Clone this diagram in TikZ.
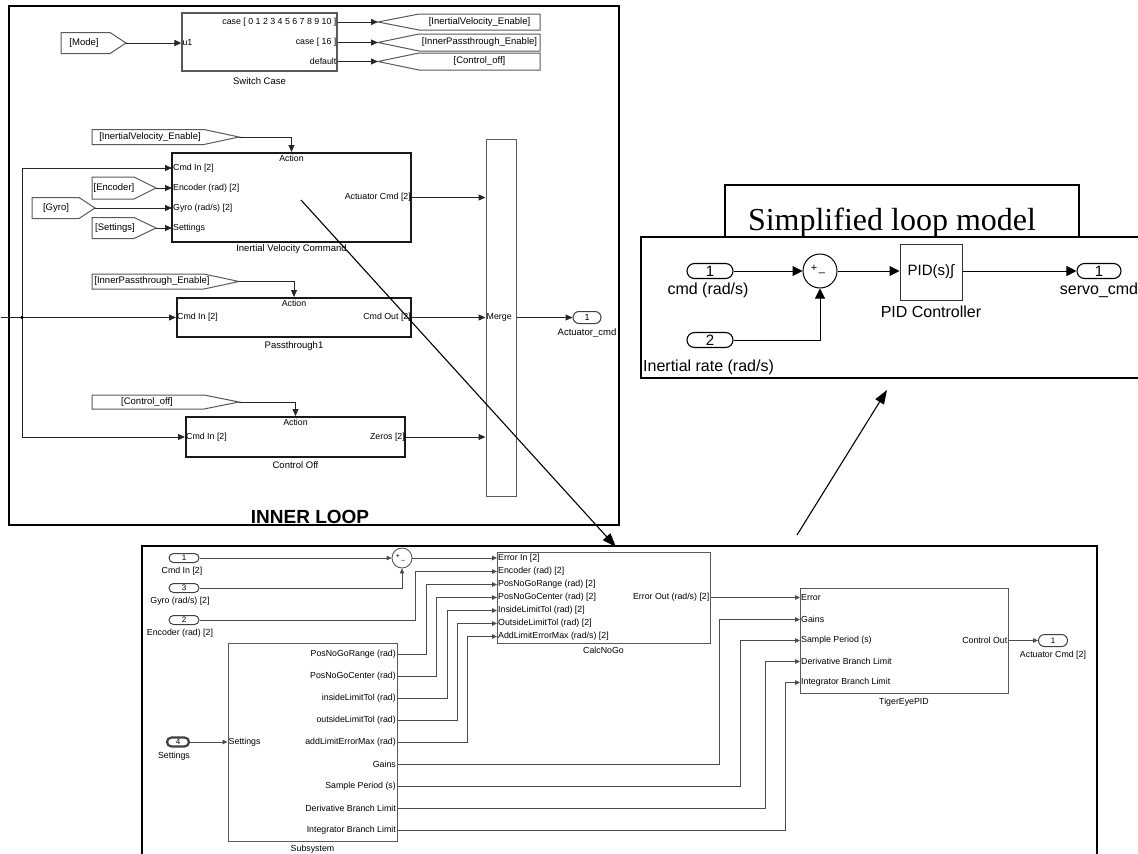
\documentclass[tikz,border=0pt]{standalone}
\usepackage{fontspec}
\setmainfont{Liberation Serif}
\setsansfont{Liberation Sans}
\usetikzlibrary{arrows.meta, calc, positioning}

\tikzset{
  frame/.style={draw=black, line width=2pt},
  blk/.style={draw=black!65, line width=1.2pt, inner sep=0pt},
  actblk/.style={draw=black!90, line width=2pt, inner sep=0pt},
  tagline/.style={draw=black!65, line width=1pt},
  sig/.style={draw=black!85, line width=1pt, -{Triangle[length=7pt,width=6pt]}},
  sigs/.style={draw=black!70, line width=0.8pt, -{Triangle[length=5pt,width=4.5pt]}},
  sigr/.style={draw=black, line width=1pt, -{Triangle[length=10pt,width=10pt]}},
  bigarrow/.style={draw=black, line width=1.1pt, -{Triangle[length=14pt,width=10pt]}},
  lbl/.style={font=\sffamily\fontsize{8.8}{10}\selectfont, inner sep=1pt},
  blkname/.style={font=\sffamily\fontsize{9.5}{11}\selectfont, inner sep=0pt},
  tagtxt/.style={font=\sffamily\fontsize{9.5}{11}\selectfont, inner sep=0pt},
  port/.style={draw=black!75, line width=1pt, rounded corners=4.5pt, inner sep=0pt,
    minimum width=30pt, minimum height=9pt, font=\sffamily\fontsize{8}{8}\selectfont},
  portr/.style={draw=black, line width=1.1pt, rounded corners=7.5pt, inner sep=0pt,
    minimum width=46pt, minimum height=15pt, font=\sffamily\fontsize{15}{15}\selectfont},
  big/.style={font=\sffamily\fontsize{16}{18}\selectfont, inner sep=0pt}
}

% from tag: name, x left, x knee, x tip, y, half height, text x, text
\newcommand{\fromtag}[8]{%
  \draw[tagline] (#2,{#5-#6}) -- (#3,{#5-#6}) -- (#4,#5) -- (#3,{#5+#6}) -- (#2,{#5+#6}) -- cycle;
  \coordinate (#1) at (#4,#5);
  \node[tagtxt] (#1-t) at (#7,#5) {#8};
}
% goto tag: name, x tip, x knee, x right, y, half height, text x, text
\newcommand{\gototag}[8]{%
  \draw[tagline] (#2,#5) -- (#3,{#5-#6}) -- (#4,{#5-#6}) -- (#4,{#5+#6}) -- (#3,{#5+#6}) -- cycle;
  \coordinate (#1) at (#2,#5);
  \node[tagtxt] (#1-t) at (#7,#5) {#8};
}

\begin{document}
\begin{tikzpicture}[x=1pt, y=-1pt]
  \useasboundingbox (0,0) rectangle (1138,854);

  % ===== inner loop =====
  \draw[frame] (9,6) rectangle (619,525);

  % switch case
  \fromtag{fMode}{61}{110}{126}{43}{10.5}{84}{[Mode]}
  \node[blk, minimum width=155pt, minimum height=58pt] (sw) at (259.5,42) {};
  \node[blkname] (sw-name) at (259.5,81) {Switch Case};
  \node[lbl, anchor=west] (sw-u1) at (sw.west |- fMode) {u1};
  \draw[sig] (fMode) -- (sw.west |- fMode);

  \gototag{gIVE}{378}{419}{540}{22}{8}{479.5}{[InertialVelocity\_Enable]}
  \gototag{gIPE}{378}{419}{540}{42.5}{8.5}{479.5}{[InnerPassthrough\_Enable]}
  \gototag{gCoff}{378}{419}{540}{61.5}{8.5}{479.5}{[Control\_off]}
  \node[lbl, anchor=east] (sw-o1) at (sw.east |- gIVE) {case [ 0 1 2 3 4 5 6 7 8 9 10 ]};
  \node[lbl, anchor=east] (sw-o2) at (sw.east |- gIPE) {case [ 16 ]};
  \node[lbl, anchor=east] (sw-o3) at (sw.east |- gCoff) {default};
  \foreach \g in {gIVE, gIPE, gCoff}
    \draw[sig] (sw.east |- \g) -- (\g);

  % inertial velocity command
  \fromtag{fIVE}{92}{204}{239}{137}{7.5}{150}{[InertialVelocity\_Enable]}
  \node[actblk, minimum width=239pt, minimum height=89pt] (ivc) at (291.5,197.5) {};
  \node[blkname] (ivc-name) at (291.5,249) {Inertial Velocity Command};
  \draw[sig] (fIVE) -| (ivc.north);
  \node[lbl, anchor=north, yshift=-2pt] (ivc-act) at (ivc.north) {Action};
  \coordinate (ivc-in1) at (172,168);
  \coordinate (ivc-in2) at (172,188);
  \coordinate (ivc-in3) at (172,208);
  \coordinate (ivc-in4) at (172,228);
  \node[lbl, anchor=west] (ivc-l1) at (ivc-in1) {Cmd In [2]};
  \node[lbl, anchor=west] (ivc-l2) at (ivc-in2) {Encoder (rad) [2]};
  \node[lbl, anchor=west] (ivc-l3) at (ivc-in3) {Gyro (rad/s) [2]};
  \node[lbl, anchor=west] (ivc-l4) at (ivc-in4) {Settings};
  \node[lbl, anchor=east] (ivc-lo) at (ivc.east) {Actuator Cmd [2]};
  \fromtag{fEnc}{92}{134}{156}{188}{11}{114}{[Encoder]}
  \fromtag{fGyro}{32}{79}{95}{208}{10.5}{56}{[Gyro]}
  \fromtag{fSet}{92}{134}{156}{228}{10.5}{115}{[Settings]}
  \draw[sig] (fEnc) -- (ivc-in2);
  \draw[sig] (fGyro) -- (ivc-in3);
  \draw[sig] (fSet) -- (ivc-in4);

  % passthrough
  \fromtag{fIPE}{92}{204}{239}{281.5}{7.5}{152}{[InnerPassthrough\_Enable]}
  \node[actblk, minimum width=234pt, minimum height=39pt] (pt) at (294,317.5) {};
  \node[blkname] (pt-name) at (294,346) {Passthrough1};
  \draw[sig] (fIPE) -| (pt.north);
  \node[lbl, anchor=north, yshift=-2pt] (pt-act) at (pt.north) {Action};
  \node[lbl, anchor=west] (pt-li) at (pt.west) {Cmd In [2]};
  \node[lbl, anchor=east] (pt-lo) at (pt.east) {Cmd Out [2]};

  % control off
  \fromtag{fCoff}{92}{204}{239}{402}{7}{147}{[Control\_off]}
  \node[actblk, minimum width=219pt, minimum height=40pt] (coff) at (295.5,437) {};
  \node[blkname] (coff-name) at (295.5,465) {Control Off};
  \draw[sig] (fCoff) -| (coff.north);
  \node[lbl, anchor=north, yshift=-2pt] (coff-act) at (coff.north) {Action};
  \node[lbl, anchor=west] (coff-li) at (coff.west) {Cmd In [2]};
  \node[lbl, anchor=east] (coff-lo) at (coff.east) {Zeros [2]};

  % cmd in feed
  \coordinate (cmdsrc) at (1,317.5);
  \coordinate (jn) at (22,317.5);
  \draw[sig] (cmdsrc) -- (pt.west);
  \draw[sig] (jn) |- (ivc-in1);
  \draw[sig] (jn) |- (coff.west);
  \fill[black] (jn) circle (1.8);

  % merge
  \node[blk, line width=1pt, minimum width=30pt, minimum height=357pt] (mrg) at (501,317.5) {};
  \node[lbl, anchor=west] (mrg-l) at (mrg.west) {Merge};
  \draw[sig] (ivc.east) -- (mrg.west |- ivc.east);
  \draw[sig] (pt.east) -- (mrg.west);
  \draw[sig] (coff.east) -- (mrg.west |- coff.east);
  \node[port, minimum width=28pt, minimum height=12pt, rounded corners=6pt,
    font=\sffamily\fontsize{9}{9}\selectfont] (out1) at (587,317.5) {1};
  \draw[sig] (mrg.east) -- (out1.west);
  \node[blkname] (out1-name) at (587,333) {Actuator\_cmd};

  \node[font=\sffamily\bfseries\fontsize{19}{20}\selectfont, anchor=base, inner sep=0pt] (inner) at (310,523) {INNER LOOP};

  % ===== simplified loop model =====
  \draw[line width=1.3pt] (725,237) -- (725,185) -- (1079,185) -- (1079,237);
  \node[font=\rmfamily\fontsize{32}{34}\selectfont, anchor=base, inner sep=0pt] (simp) at (892,230) {Simplified loop model};
  \fill[white] (641,237) rectangle (1138,378);
  \draw[line width=1.5pt] (1138,237) -- (641,237) -- (641,378) -- (1138,378);

  \node[portr] (in1) at (710,271) {1};
  \node[big] (in1-name) at (708,290) {cmd (rad/s)};
  \node[portr] (in2) at (710,340) {2};
  \node[big, anchor=west] (in2-name) at (643,367) {Inertial rate (rad/s)};
  \node[draw, line width=1pt, circle, minimum size=34pt, inner sep=0pt] (sum1) at (820,271) {};
  \node[font=\sffamily\fontsize{11}{11}\selectfont, inner sep=0pt] (sum1-p) at (814,268) {+};
  \node[font=\sffamily\fontsize{11}{11}\selectfont, inner sep=0pt] (sum1-m) at (822,273) {\_};
  \node[draw=black!80, line width=1pt, minimum width=62pt, minimum height=56pt, inner sep=0pt,
    font=\sffamily\fontsize{15}{15}\selectfont] (pid) at (931,272) {PID(s)∫};
  \node[big] (pid-name) at (931,312) {PID Controller};
  \node[portr, minimum width=44pt] (out2) at (1099,271) {1};
  \node[big] (out2-name) at (1099,290) {servo\_cmd};
  \draw[sigr] (in1.east) -- (sum1.west);
  \draw[sigr] (in2.east) -| (sum1.south);
  \draw[sigr] (sum1.east) -- (pid.west |- sum1.east);
  \draw[sigr] (pid.east |- out2) -- (out2.west);

  % ===== controller detail =====
  \draw[frame] (142,854) -- (142,546) -- (1097,546) -- (1097,854);

  \node[port] (b1) at (184,558) {1};
  \node[lbl] (b1-name) at (182,571) {Cmd In [2]};
  \node[port] (b3) at (184,588) {3};
  \node[lbl] (b3-name) at (180,601) {Gyro (rad/s) [2]};
  \node[port] (b2) at (184,620) {2};
  \node[lbl] (b2-name) at (180,633) {Encoder (rad) [2]};
  \node[port, line width=2.2pt, minimum width=22pt] (b4) at (178,742) {4};
  \node[lbl] (b4-name) at (174,756) {Settings};

  \node[draw=black!70, line width=0.8pt, circle, minimum size=20pt, inner sep=0pt] (sum2) at (402,558) {};
  \node[font=\sffamily\fontsize{7}{7}\selectfont, inner sep=0pt] (sum2-p) at (398,556) {+};
  \node[font=\sffamily\fontsize{7}{7}\selectfont, inner sep=0pt] (sum2-m) at (403,560) {\_};
  \draw[sigs] (b1.east) -- (sum2.west);
  \draw[sigs] (b3.east) -| (sum2.south);

  % calc no go
  \node[blk, line width=1pt, minimum width=213pt, minimum height=91pt] (calc) at (603.5,597.5) {};
  \node[lbl] (calc-name) at (603.5,650) {CalcNoGo};
  \foreach \i/\yy/\t in {1/558/{Error In [2]}, 2/571.5/{Encoder (rad) [2]}, 3/584.5/{PosNoGoRange (rad) [2]},
      4/597.5/{PosNoGoCenter (rad) [2]}, 5/610.5/{InsideLimitTol (rad) [2]}, 6/623.5/{OutsideLimitTol (rad) [2]},
      7/636.5/{AddLimitErrorMax (rad/s) [2]}} {
    \coordinate (c\i) at (497,\yy);
    \node[lbl, anchor=west] (c\i-l) at (c\i) {\t};
  }
  \node[lbl, anchor=east] (calc-lo) at (calc.east) {Error Out (rad/s) [2]};
  \draw[sigs] (sum2.east) -- (c1);
  \draw[sigs] (b2.east) -- (b2.east -| 415,0) |- (c2);

  % subsystem
  \node[blk, line width=1pt, minimum width=169pt, minimum height=198pt] (sub) at (312.5,742) {};
  \node[lbl] (sub-name) at (312.5,849) {Subsystem};
  \node[lbl, anchor=west] (sub-li) at (sub.west) {Settings};
  \draw[sigs] (b4.east) -- (sub.west);
  \foreach \i/\yy/\t in {1/654/{PosNoGoRange (rad)}, 2/676/{PosNoGoCenter (rad)}, 3/698/{insideLimitTol (rad)},
      4/720/{outsideLimitTol (rad)}, 5/742/{addLimitErrorMax (rad)}, 6/764/{Gains}, 7/786/{Sample Period (s)},
      8/808/{Derivative Branch Limit}, 9/830/{Integrator Branch Limit}} {
    \coordinate (s\i) at (397,\yy);
    \node[lbl, anchor=east] (s\i-l) at (s\i) {\t};
  }
  \foreach \s/\c/\xx in {s1/c3/426, s2/c4/436, s3/c5/447, s4/c6/457, s5/c7/467}
    \draw[sigs] (\s) -- (\s -| \xx,0) |- (\c);

  % tiger eye pid
  \node[blk, line width=1pt, minimum width=208pt, minimum height=105pt] (tep) at (904,640.5) {};
  \node[lbl] (tep-name) at (904,702) {TigerEyePID};
  \foreach \i/\yy/\t in {1/597.5/{Error}, 2/619.5/{Gains}, 3/640.5/{Sample Period (s)},
      4/661.5/{Derivative Branch Limit}, 5/682.5/{Integrator Branch Limit}} {
    \coordinate (t\i) at (800,\yy);
    \node[lbl, anchor=west] (t\i-l) at (t\i) {\t};
  }
  \node[lbl, anchor=east] (tep-lo) at (tep.east) {Control Out};
  \draw[sigs] (calc.east) -- (t1);
  \foreach \s/\t/\xx in {s6/t2/719, s7/t3/740, s8/t4/765, s9/t5/785}
    \draw[sigs] (\s) -- (\s -| \xx,0) |- (\t);
  \node[port, minimum width=29pt, minimum height=12pt, rounded corners=6pt] (bo) at (1053,640.5) {1};
  \node[lbl] (bo-name) at (1053,655) {Actuator Cmd [2]};
  \draw[sigs] (tep.east) -- (bo.west);

  % ===== pointers =====
  \coordinate (a1s) at (301,200);
  \coordinate (a1e) at (616,547);
  \coordinate (a2s) at (797,535);
  \coordinate (a2e) at (887,390);
  \draw[bigarrow] (a1s) -- (a1e);
  \draw[bigarrow] (a2s) -- (a2e);
\end{tikzpicture}
\end{document}
